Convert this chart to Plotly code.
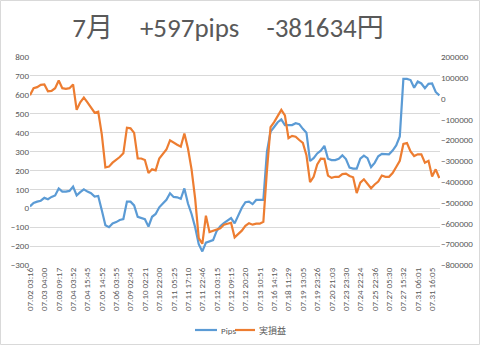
import plotly.graph_objects as go

title_text = "7月\u3000+597pips\u3000-381634円"

tick_labels = [
    "07.02 03:16", "07.03 04:00", "07.03 09:17", "07.04 03:52", "07.04 15:45",
    "07.05 14:52", "07.06 03:55", "07.09 02:45", "07.10 02:21", "07.10 22:00",
    "07.11 05:25", "07.11 17:10", "07.11 22:46", "07.12 03:15", "07.12 09:15",
    "07.12 20:20", "07.13 10:51", "07.16 14:19", "07.18 11:29", "07.19 13:05",
    "07.19 23:26", "07.20 21:03", "07.23 23:30", "07.24 22:24", "07.25 22:36",
    "07.27 05:30", "07.27 15:32", "07.31 06:01", "07.31 16:05",
]
label_step = 4

series_names = ["Pips", "実損益"]

pips = [
    10, 28, 35, 40, 55, 48, 60, 68, 105, 88, 88, 92, 115, 68, 85, 100, 88, 80, 62, 65,
    -10, -90, -100, -80, -73, -62, -57, 35, 35, 15, -45, -52, -58, -97, -45, -30, 5, 25, 45, 79,
    60, 58, 50, 105, 25, -30, -100, -190, -228, -182, -176, -168, -120, -95, -78, -65, -52, -80, -35, 3,
    32, 35, 22, 44, 44, 44, 300, 405, 430, 455, 470, 440, 440, 440, 450, 445, 420, 400, 250, 265,
    290, 305, 330, 262, 255, 255, 262, 280, 260, 215, 210, 210, 262, 278, 265, 218, 240, 275, 288, 287,
    285, 305, 332, 380, 684, 684, 678, 637, 670, 660, 635, 658, 660, 615, 597,
]

profit = [
    16000, 50000, 55000, 66000, 68000, 35000, 37000, 50000, 87000, 50000,
    47000, 50000, 68000, -54000, -18000, 5000, -18000, -45000, -68000, -63000,
    -172000, -331000, -327000, -308000, -295000, -281000, -263000, -140000, -143000, -165000,
    -288000, -288000, -295000, -358000, -340000, -345000, -288000, -268000, -245000, -201000,
    -213000, -222000, -231000, -168000, -240000, -340000, -481000, -671000, -698000, -563000,
    -642000, -635000, -631000, -624000, -606000, -602000, -597000, -667000, -651000, -635000,
    -612000, -599000, -606000, -601000, -601000, -592000, -345000, -137000, -113000, -81000,
    -54000, -81000, -190000, -179000, -183000, -199000, -213000, -272000, -402000, -376000,
    -317000, -289000, -290000, -370000, -381000, -376000, -376000, -363000, -361000, -372000,
    -378000, -454000, -404000, -388000, -408000, -431000, -413000, -399000, -370000, -376000,
    -376000, -358000, -329000, -299000, -218000, -214000, -254000, -276000, -268000, -268000,
    -308000, -299000, -374000, -340000, -381634,
]

x_idx = list(range(len(pips)))
tick_vals = [i * label_step for i in range(len(tick_labels))]

BLUE = "#5B9BD5"
ORANGE = "#ED7D31"
GRAY = "#595959"
FONT = "Calibri, 'Liberation Sans', 'Noto Sans CJK JP', sans-serif"

fig = go.Figure()
fig.add_trace(go.Scatter(x=x_idx, y=pips, mode="lines", name=series_names[0],
                         line=dict(color=BLUE, width=2.2), showlegend=False))
fig.add_trace(go.Scatter(x=x_idx, y=profit, mode="lines", name=series_names[1], yaxis="y2",
                         line=dict(color=ORANGE, width=2.2), showlegend=False))

W, H = 480, 345
L, R, T, B = 30, 40, 57, 80
pw, ph = W - L - R, H - T - B


def px_x(px):
    return (px - L) / pw


def px_y(py):
    return (T + ph - py) / ph


legend_y = 330
shapes = [
    dict(type="rect", xref="paper", yref="paper",
         x0=px_x(0.5), x1=px_x(W - 0.5), y0=px_y(H - 0.5), y1=px_y(0.5),
         line=dict(color="#D9D9D9", width=1), fillcolor="rgba(0,0,0,0)", layer="below"),
    dict(type="line", xref="paper", yref="paper", x0=px_x(195), x1=px_x(217),
         y0=px_y(legend_y), y1=px_y(legend_y), line=dict(color=BLUE, width=2.2)),
    dict(type="line", xref="paper", yref="paper", x0=px_x(235), x1=px_x(255),
         y0=px_y(legend_y), y1=px_y(legend_y), line=dict(color=ORANGE, width=2.2)),
]
annotations = [
    dict(text=series_names[0], xref="paper", yref="paper", x=px_x(219), y=px_y(legend_y),
         xanchor="left", yanchor="middle", showarrow=False, font=dict(size=9, color=GRAY)),
    dict(text=series_names[1], xref="paper", yref="paper", x=px_x(257), y=px_y(legend_y),
         xanchor="left", yanchor="middle", showarrow=False, font=dict(size=9, color=GRAY)),
]

fig.update_layout(
    width=W, height=H,
    margin=dict(l=L, r=R, t=T, b=B, pad=0, autoexpand=False),
    paper_bgcolor="white", plot_bgcolor="white",
    font=dict(family=FONT, color=GRAY, size=9),
    title=dict(text=title_text, x=0.475, xanchor="center", y=1 - 28 / H, yanchor="middle",
               font=dict(size=27, color=GRAY, family=FONT)),
    xaxis=dict(range=[0, len(pips) - 0.8], tickmode="array", tickvals=tick_vals,
               ticktext=tick_labels, tickangle=-90, showgrid=False, zeroline=False,
               showline=False, ticks="", automargin=False, tickfont=dict(size=9, color=GRAY)),
    yaxis=dict(range=[-300, 800], dtick=100, showgrid=True, gridcolor="#D9D9D9",
               gridwidth=1, zeroline=False, showline=False, ticks="", automargin=False,
               tickfont=dict(size=9, color=GRAY)),
    yaxis2=dict(range=[-800000, 200000], dtick=100000, overlaying="y", side="right",
                showgrid=False, zeroline=False, showline=False, ticks="", automargin=False,
                tickformat="d", tickfont=dict(size=9, color=GRAY)),
    showlegend=False,
    shapes=shapes,
    annotations=annotations,
)

fig.write_html("out.html")
